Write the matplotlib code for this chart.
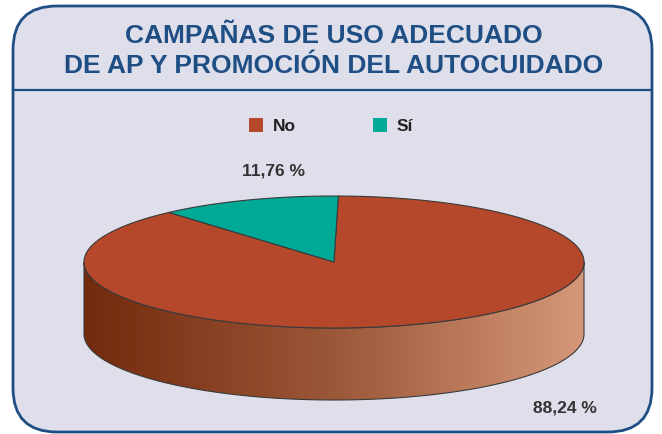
import numpy as np
import matplotlib
matplotlib.use("Agg")
import matplotlib.pyplot as plt
from matplotlib.patches import FancyBboxPatch, Polygon, Rectangle
from matplotlib.colors import LinearSegmentedColormap

# datos
categorias = ["No", "Sí"]
valores = [88.24, 11.76]
etiquetas = ["88,24 %", "11,76 %"]

TITLE_C = "#1F4E85"
BG = "#DEDFEA"
TOP = ["#B5482A", "#00A896"]
SIDE = [["#742A0C", "#9B5838", "#D6987A"], ["#00665C", "#009080", "#66CCC0"]]
EDGE = "#3A3A3A"
FONT = ["Liberation Sans Narrow", "Liberation Sans", "DejaVu Sans"]

W, H = 662, 435
fig = plt.figure(figsize=(W / 100, H / 100), dpi=100)
ax = fig.add_axes([0, 0, 1, 1])
ax.set_xlim(0, W); ax.set_ylim(H, 0); ax.axis("off")

# panel redondeado
panel = FancyBboxPatch((13, 7), 639, 426, boxstyle="round,pad=0,rounding_size=44",
                       facecolor=BG, edgecolor="#1F4E85", lw=2, zorder=0)
ax.add_patch(panel)
ax.plot([14, 651], [91, 91], color="#1F4E85", lw=1.6, zorder=1)

ax.text(334, 36, "CAMPAÑAS DE USO ADECUADO", ha="center", va="center",
        fontsize=19, fontweight="bold", color=TITLE_C, family=FONT)
ax.text(334, 66, "DE AP Y PROMOCIÓN DEL AUTOCUIDADO", ha="center", va="center",
        fontsize=19, fontweight="bold", color=TITLE_C, family=FONT)

# leyenda
for i, (cat, x0) in enumerate(zip(categorias, [249, 373])):
    ax.add_patch(Rectangle((x0, 119), 14, 14, facecolor=TOP[i], edgecolor="none", zorder=3))
    ax.text(x0 + 24, 126.5, cat, ha="left", va="center", fontsize=12.5,
            fontweight="bold", color="#222222", family=FONT)

# pastel 3D
cx, cy, rx, ry, depth = 334, 263, 250, 66, 72
start = 89.0
fr = np.array(valores) / sum(valores)
bounds = start - 360 * np.concatenate([[0], np.cumsum(fr)])  # sentido horario


def pt(t, dz=0):
    r = np.radians(t)
    return cx + rx * np.cos(r), cy - ry * np.sin(r) + dz


# caras laterales (solo la mitad frontal, angulos 180..360)
for i in range(len(valores)):
    a1, a2 = sorted([bounds[i + 1], bounds[i]])
    for k in (-360, 0, 360):
        lo, hi = max(a1 + k, 180), min(a2 + k, 360)
        if hi <= lo:
            continue
        ts = np.linspace(lo, hi, 200)
        top = [pt(t) for t in ts]
        bot = [pt(t, depth) for t in ts[::-1]]
        poly = Polygon(top + bot, closed=True, facecolor="none", edgecolor=EDGE, lw=0.8, zorder=4)
        ax.add_patch(poly)
        cmap = LinearSegmentedColormap.from_list("s%d" % i, SIDE[i])
        grad = np.linspace(0, 1, 256).reshape(1, -1)
        im = ax.imshow(grad, cmap=cmap, aspect="auto", zorder=3,
                       extent=(cx - rx, cx + rx, cy + ry + depth, cy - ry))
        im.set_clip_path(poly)

# caras superiores
for i in range(len(valores)):
    ts = np.linspace(bounds[i], bounds[i + 1], 300)
    verts = [(cx, cy)] + [pt(t) for t in ts]
    ax.add_patch(Polygon(verts, closed=True, facecolor=TOP[i], edgecolor=EDGE,
                         lw=0.8, zorder=5))

ax.text(565, 408, etiquetas[0], ha="center", va="center", fontsize=12.5,
        fontweight="bold", color="#333333", family=FONT)
ax.text(274, 171, etiquetas[1], ha="center", va="center", fontsize=12.5,
        fontweight="bold", color="#333333", family=FONT)

fig.savefig("out.png", dpi=100, facecolor="white")
